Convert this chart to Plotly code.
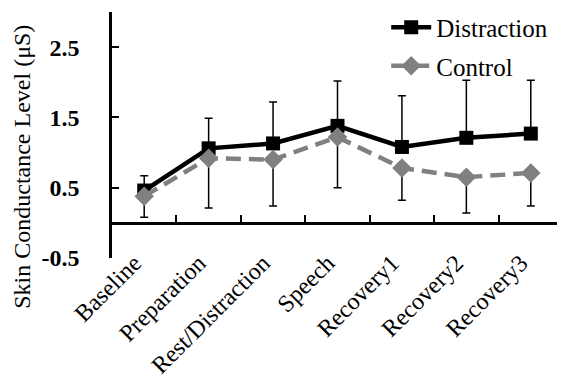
import plotly.graph_objects as go

categories = ["Baseline", "Preparation", "Rest/Distraction", "Speech", "Recovery1", "Recovery2", "Recovery3"]
distraction = [0.46, 1.06, 1.13, 1.38, 1.08, 1.21, 1.27]
distraction_err_plus = [0.21, 0.43, 0.59, 0.64, 0.73, 0.82, 0.76]
control = [0.38, 0.92, 0.90, 1.22, 0.78, 0.65, 0.71]
control_err_minus = [0.30, 0.71, 0.66, 0.72, 0.46, 0.51, 0.47]
y_ticks = [-0.5, 0.5, 1.5, 2.5]

FONT = "Liberation Serif"

fig = go.Figure()
fig.add_trace(go.Scatter(
    x=categories, y=distraction, name="Distraction", mode="lines+markers",
    line=dict(color="black", width=4.5),
    marker=dict(symbol="square", size=14, color="black"),
    error_y=dict(type="data", symmetric=False, array=distraction_err_plus,
                 arrayminus=[0] * len(categories), color="black", thickness=1.5, width=4),
    legendgroup="d",
))
fig.add_trace(go.Scatter(
    x=categories, y=control, name="Control", mode="lines+markers",
    line=dict(color="#808080", width=4.5, dash="15px,8px"),
    marker=dict(symbol="diamond", size=15, color="#808080"),
    error_y=dict(type="data", symmetric=False, array=[0] * len(categories),
                 arrayminus=control_err_minus, color="black", thickness=1.5, width=4),
    legendgroup="c",
))

# zero-line axis with boundary ticks
fig.add_trace(go.Scatter(x=categories, y=[None] * len(categories), xaxis="x2",
                         showlegend=False, hoverinfo="skip"))

# page body has an 8px margin, so the figure is sized to fill the rest of the window
fig.update_layout(
    width=557, height=370,
    margin=dict(l=104, r=2, t=4, b=120, autoexpand=False),
    paper_bgcolor="white", plot_bgcolor="white",
    font=dict(family=FONT, color="black"),
    showlegend=True,
    legend=dict(x=0.608, y=1.03, xanchor="left", yanchor="top",
                font=dict(family=FONT, size=25), bgcolor="rgba(0,0,0,0)",
                tracegroupgap=3, itemwidth=40),
    xaxis=dict(
        type="category", range=[-0.5, 6.5], showline=False, showgrid=False,
        anchor="free", position=0.06,
        ticks="", tickangle=-45, tickfont=dict(family=FONT, size=24),
        ticklabelshift=-10,
        zeroline=False, automargin=False,
    ),
    xaxis2=dict(
        type="category", overlaying="x", anchor="free", position=0.5 / 3.5,
        range=[-0.5, 6.5], showline=True, linecolor="black", linewidth=2.5,
        ticks="inside", ticklen=7, tickwidth=2, tickcolor="black",
        tickson="boundaries", showticklabels=False, showgrid=False, automargin=False,
    ),
    yaxis=dict(
        range=[-0.5, 3.0], tickvals=y_ticks, ticktext=[f"{v:.1f}" for v in y_ticks],
        showline=True, linecolor="black", linewidth=2.5, showgrid=False,
        zeroline=False, ticks="inside", ticklen=7, tickwidth=2, tickcolor="black",
        tickfont=dict(family=FONT, size=24, weight="bold"), ticklabelstandoff=25,
        automargin=False,
    ),
    annotations=[dict(
        text="Skin Conductance Level (μS)", textangle=-90, xref="paper", yref="paper",
        x=-0.2, y=0.37, xanchor="center", yanchor="middle", showarrow=False,
        font=dict(family=FONT, size=24),
    )],
)

fig.write_html("out.html")
